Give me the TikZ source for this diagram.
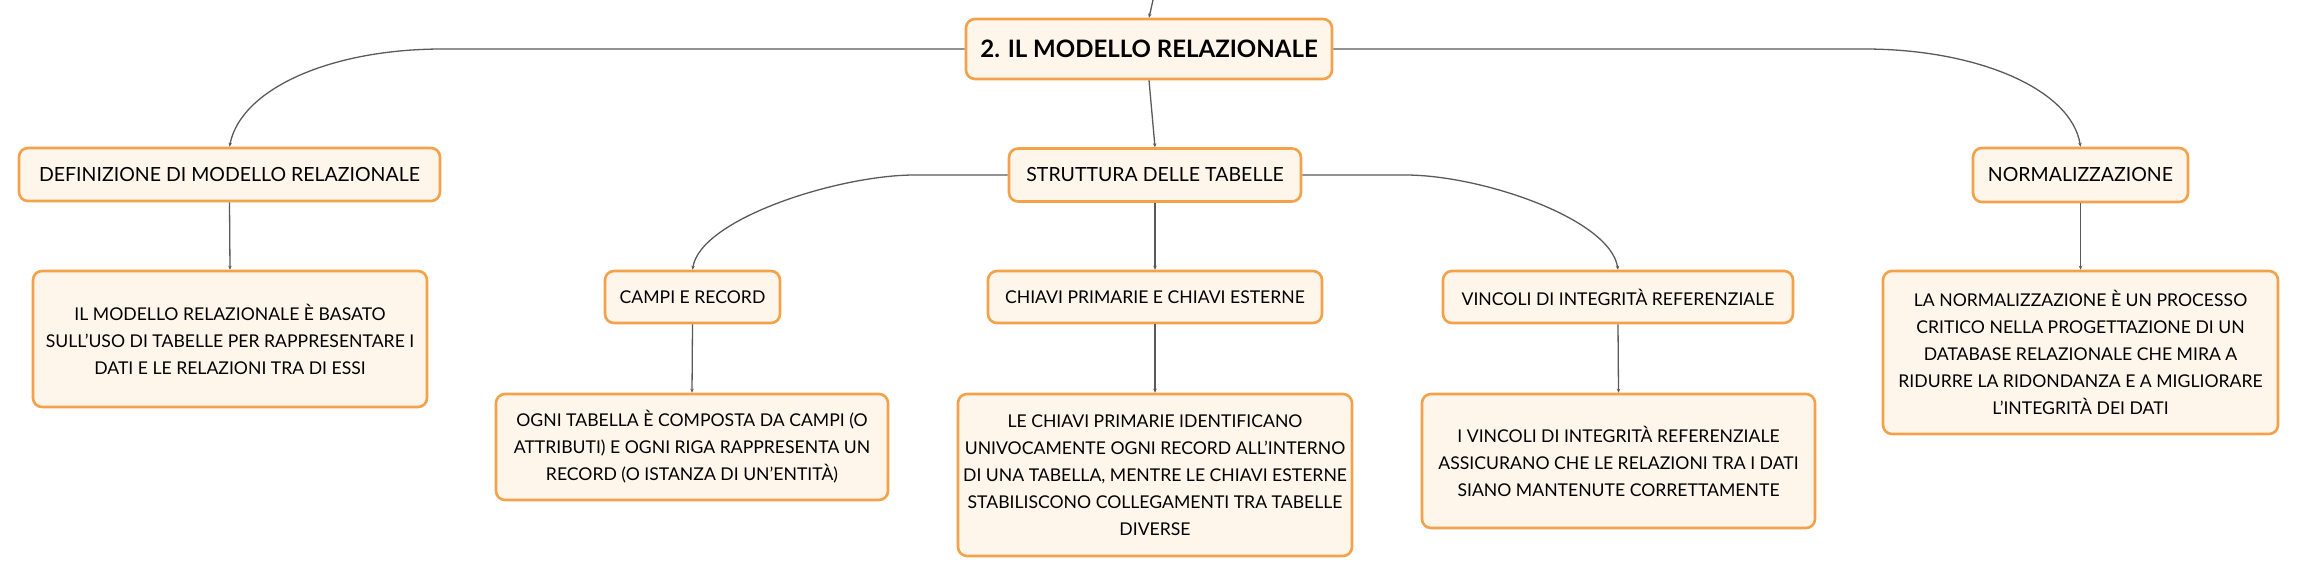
\documentclass[tikz,border=0pt]{standalone}
\usepackage{fontspec}
\setmainfont{Lato}
\usetikzlibrary{arrows.meta}
\definecolor{boxedge}{HTML}{F4A24A}
\definecolor{boxfill}{HTML}{FEF5EB}
\definecolor{linegray}{HTML}{5A5A5A}
\tikzset{
  box/.style={rectangle, rounded corners=9pt, draw=boxedge, line width=2.6pt,
    fill=boxfill, inner sep=0pt, align=center, text=black,
    font=\fontsize{19.5}{27}\selectfont},
  textbox/.style={box, font=\fontsize{17.6}{27}\selectfont},
  rootbox/.style={box, font=\fontsize{24}{30}\selectfont\bfseries},
  conn/.style={draw=linegray, line width=1.3pt, -{Stealth[length=4pt,width=3.5pt]}}
}
\begin{document}
\begin{tikzpicture}[x=1pt,y=-1pt]
\useasboundingbox (0,0) rectangle (2297,577);
% nodes
\node[rootbox, minimum width=366pt, minimum height=60pt] (root) at (1149,49) {2. IL MODELLO RELAZIONALE};
\coordinate (top) at (1153,0);

\node[box, minimum width=421pt, minimum height=53pt] (def) at (229.5,174.5) {DEFINIZIONE DI MODELLO RELAZIONALE};
\node[box, minimum width=292pt, minimum height=53pt] (str) at (1155,175) {STRUTTURA DELLE TABELLE};
\node[box, minimum width=215pt, minimum height=54pt] (norm) at (2080.5,175) {NORMALIZZAZIONE};

\node[textbox, minimum width=394pt, minimum height=136pt] (defc) at (230,339)
  {IL MODELLO RELAZIONALE È BASATO\\SULL'USO DI TABELLE PER RAPPRESENTARE I\\DATI E LE RELAZIONI TRA DI ESSI};

\node[textbox, minimum width=175pt, minimum height=52pt] (campi) at (692.5,297) {CAMPI E RECORD};
\node[textbox, minimum width=334pt, minimum height=52pt] (chiavi) at (1155,297) {CHIAVI PRIMARIE E CHIAVI ESTERNE};
\node[textbox, minimum width=350pt, minimum height=52pt] (vinc) at (1618,297) {VINCOLI DI INTEGRITÀ REFERENZIALE};

\node[textbox, minimum width=392pt, minimum height=106pt] (campic) at (692,447)
  {OGNI TABELLA È COMPOSTA DA CAMPI (O\\ATTRIBUTI) E OGNI RIGA RAPPRESENTA UN\\RECORD (O ISTANZA DI UN'ENTITÀ)};
\node[textbox, minimum width=394pt, minimum height=162pt] (chiavic) at (1155,475)
  {LE CHIAVI PRIMARIE IDENTIFICANO\\UNIVOCAMENTE OGNI RECORD ALL'INTERNO\\DI UNA TABELLA, MENTRE LE CHIAVI ESTERNE\\STABILISCONO COLLEGAMENTI TRA TABELLE\\DIVERSE};
\node[textbox, minimum width=393pt, minimum height=134pt] (vincc) at (1618.5,461)
  {I VINCOLI DI INTEGRITÀ REFERENZIALE\\ASSICURANO CHE LE RELAZIONI TRA I DATI\\SIANO MANTENUTE CORRETTAMENTE};
\node[textbox, minimum width=395pt, minimum height=163pt] (normc) at (2080.5,352.5)
  {LA NORMALIZZAZIONE È UN PROCESSO\\CRITICO NELLA PROGETTAZIONE DI UN\\DATABASE RELAZIONALE CHE MIRA A\\RIDURRE LA RIDONDANZA E A MIGLIORARE\\L'INTEGRITÀ DEI DATI};

% connectors
\draw[conn] (top) -- (root.north);
\draw[conn] (root.west) -- ++(-522,0) .. controls +(-114,0) and +(11,-57) .. (def.north);
\draw[conn] (root.east) -- ++(531,0) .. controls +(114,0) and +(-9,-57) .. (norm.north);
\draw[conn] (root.south) -- (str.north);
\draw[conn] (def.south) -- (defc.north);
\draw[conn] (norm.south) -- (normc.north);
\draw[conn] (str.west) -- ++(-93,0) .. controls +(-76,0) and +(8,-51) .. (campi.north);
\draw[conn] (str.east) -- ++(103,0) .. controls +(76,0) and +(-8,-51) .. (vinc.north);
\draw[conn] (str.south) -- (chiavi.north);
\draw[conn] (campi.south) -- (campic.north);
\draw[conn] (chiavi.south) -- (chiavic.north);
\draw[conn] (vinc.south) -- (vincc.north);
\end{tikzpicture}
\end{document}
